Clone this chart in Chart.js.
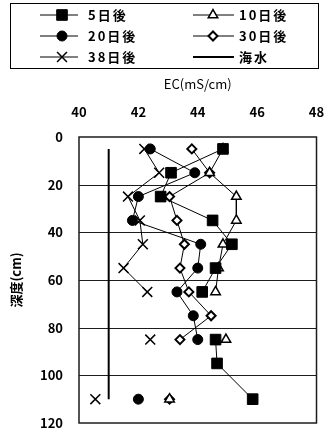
<!DOCTYPE html>
<html>
<head>
<meta charset="utf-8">
<script src="https://cdn.jsdelivr.net/npm/chart.js@4.4.1/dist/chart.umd.min.js"></script>
<style>
  html, body { margin: 0; padding: 0; background: #fff; }
  #wrap { position: relative; width: 325px; height: 433px; }
  #legend-box { position: absolute; left: 10px; top: 3px; width: 307px; height: 64px; border: 1px solid #000; pointer-events: none; }
</style>
</head>
<body>
<div id="wrap">
<canvas id="ec-chart" width="325" height="433"></canvas>
<div id="legend-box"></div>
</div>
<script>
// depth of each sample (cm) and EC readings (mS/cm) per day, null = not measured
const depths = [5, 15, 25, 35, 45, 55, 65, 75, 85, 95, 110];
const day5 = [44.85, 43.1, 42.75, 44.5, 45.15, 44.6, 44.15, null, 44.6, 44.65, 45.85];
const day10 = [44.85, 44.4, 45.3, 45.3, 44.85, 44.7, 44.6, null, 44.95, null, 43.05];
const day20 = [42.4, 43.9, 42.0, 41.8, 44.1, 44.0, 43.3, 43.85, 44.0, null, 42.0];
const day30 = [43.8, 44.4, 43.05, 43.3, 43.55, 43.4, 43.7, 44.45, 43.4, null, 43.05];
const day38 = [42.2, 42.7, 41.65, 42.05, 42.15, 41.5, 42.3, null, 42.4, null, 40.55];
const seaEC = [41, 41];
const seaDepth = [5, 110];

const seriesLabels = ['5日後', '10日後', '20日後', '30日後', '38日後', '海水'];
const ecTicks = [40, 42, 44, 46, 48];
const depthTicks = [0, 20, 40, 60, 80, 100, 120];

const FONT = '"Noto Sans CJK JP", "Noto Sans", sans-serif';
const INK = '#1c1c1c';

const toPoints = (ecs, ds) => ds.map((d, i) => ({ x: ecs[i], y: d }));

const series = (label, ecs, ds, style, radius, fill, bw) => ({
  label: label,
  data: toPoints(ecs, ds),
  showLine: true,
  borderColor: '#000',
  borderWidth: 1,
  pointStyle: style,
  pointRadius: radius,
  pointBackgroundColor: fill,
  pointBorderColor: '#000',
  pointBorderWidth: bw,
  spanGaps: false
});

// legend entries at the top, two columns (box is a css border)
const boxLegend = {
  id: 'boxLegend',
  afterDraw(chart) {
    const c = chart.ctx;
    c.save();
    const cols = [{ x0: 40, x1: 78, mk: 62, tx: 88 }, { x0: 193, x1: 234, mk: 213, tx: 239 }];
    const rows = [15, 36, 57];
    chart.data.datasets.forEach((ds, i) => {
      const col = cols[i % 2];
      const y = rows[Math.floor(i / 2)];
      c.beginPath();
      c.moveTo(col.x0, y);
      c.lineTo(col.x1, y);
      c.lineWidth = ds.borderWidth;
      c.strokeStyle = '#000';
      c.stroke();
      if (ds.pointRadius > 0) {
        c.fillStyle = ds.pointBackgroundColor;
        c.strokeStyle = '#000';
        c.lineWidth = ds.pointBorderWidth;
        Chart.helpers.drawPoint(c, {
          pointStyle: ds.pointStyle, radius: ds.pointRadius,
          borderWidth: ds.pointBorderWidth, rotation: 0
        }, col.mk, y);
      }
      c.fillStyle = '#000';
      c.font = 'bold 13px ' + FONT;
      c.textBaseline = 'middle';
      c.textAlign = 'left';
      c.letterSpacing = '2px';
      c.fillText(seriesLabels[i], col.tx, y);
    });
    c.restore();
  }
};

// plot frame + horizontal depth lines
const frame = {
  id: 'frame',
  beforeDatasetsDraw(chart) {
    const a = chart.chartArea;
    const yS = chart.scales.y;
    const c = chart.ctx;
    c.save();
    c.strokeStyle = INK;
    c.lineWidth = 1;
    depthTicks.slice(1, -1).forEach(v => {
      const py = Math.round(yS.getPixelForValue(v)) + 0.5;
      c.beginPath();
      c.moveTo(a.left, py);
      c.lineTo(a.right, py);
      c.stroke();
    });
    c.lineWidth = 1.5;
    c.strokeRect(a.left, a.top, a.right - a.left, a.bottom - a.top);
    c.restore();
  }
};

Chart.defaults.font.family = FONT;
Chart.defaults.color = '#000';

const ecChart = new Chart(document.getElementById('ec-chart'), {
  type: 'scatter',
  data: {
    datasets: [
      series(seriesLabels[0], day5, depths, 'rect', 7.5, '#000', 1),
      series(seriesLabels[1], day10, depths, 'triangle', 5.5, '#fff', 1.5),
      series(seriesLabels[2], day20, depths, 'circle', 5, '#000', 1),
      series(seriesLabels[3], day30, depths, 'rectRot', 4.5, '#fff', 2),
      series(seriesLabels[4], day38, depths, 'crossRot', 7, '#000', 1.5),
      {
        label: seriesLabels[5],
        data: toPoints(seaEC, seaDepth),
        showLine: true,
        borderColor: '#000',
        borderWidth: 2,
        pointRadius: 0
      }
    ]
  },
  options: {
    responsive: false,
    animation: false,
    layout: { padding: { top: 72, right: 8, bottom: 10, left: 0 } },
    plugins: {
      legend: { display: false },
      tooltip: { enabled: false }
    },
    scales: {
      x: {
        type: 'linear',
        position: 'top',
        min: 40,
        max: 48,
        afterBuildTicks: (s) => { s.ticks = ecTicks.map(v => ({ value: v })); },
        afterFit: (s) => { s.height = 65; s.paddingLeft = 0; s.paddingRight = 0; },
        grid: { display: false, drawTicks: false },
        border: { display: false },
        ticks: { padding: 17, font: { size: 13, weight: 'bold' } },
        title: {
          display: true,
          text: 'EC(mS/cm)',
          font: { size: 13 },
          padding: { top: 4, bottom: 15.6 }
        }
      },
      y: {
        type: 'linear',
        reverse: true,
        min: 0,
        max: 120,
        afterBuildTicks: (s) => { s.ticks = depthTicks.map(v => ({ value: v })); },
        afterFit: (s) => { s.width = 79; s.paddingTop = 0; s.paddingBottom = 0; },
        grid: { display: false, drawTicks: false },
        border: { display: false },
        ticks: { padding: 16, font: { size: 13, weight: 'bold' } },
        title: {
          display: true,
          text: '深度(cm)',
          font: { size: 13, weight: 'bold' },
          padding: { top: 8, bottom: 4 }
        }
      }
    }
  },
  plugins: [frame, boxLegend]
});
</script>
</body>
</html>
